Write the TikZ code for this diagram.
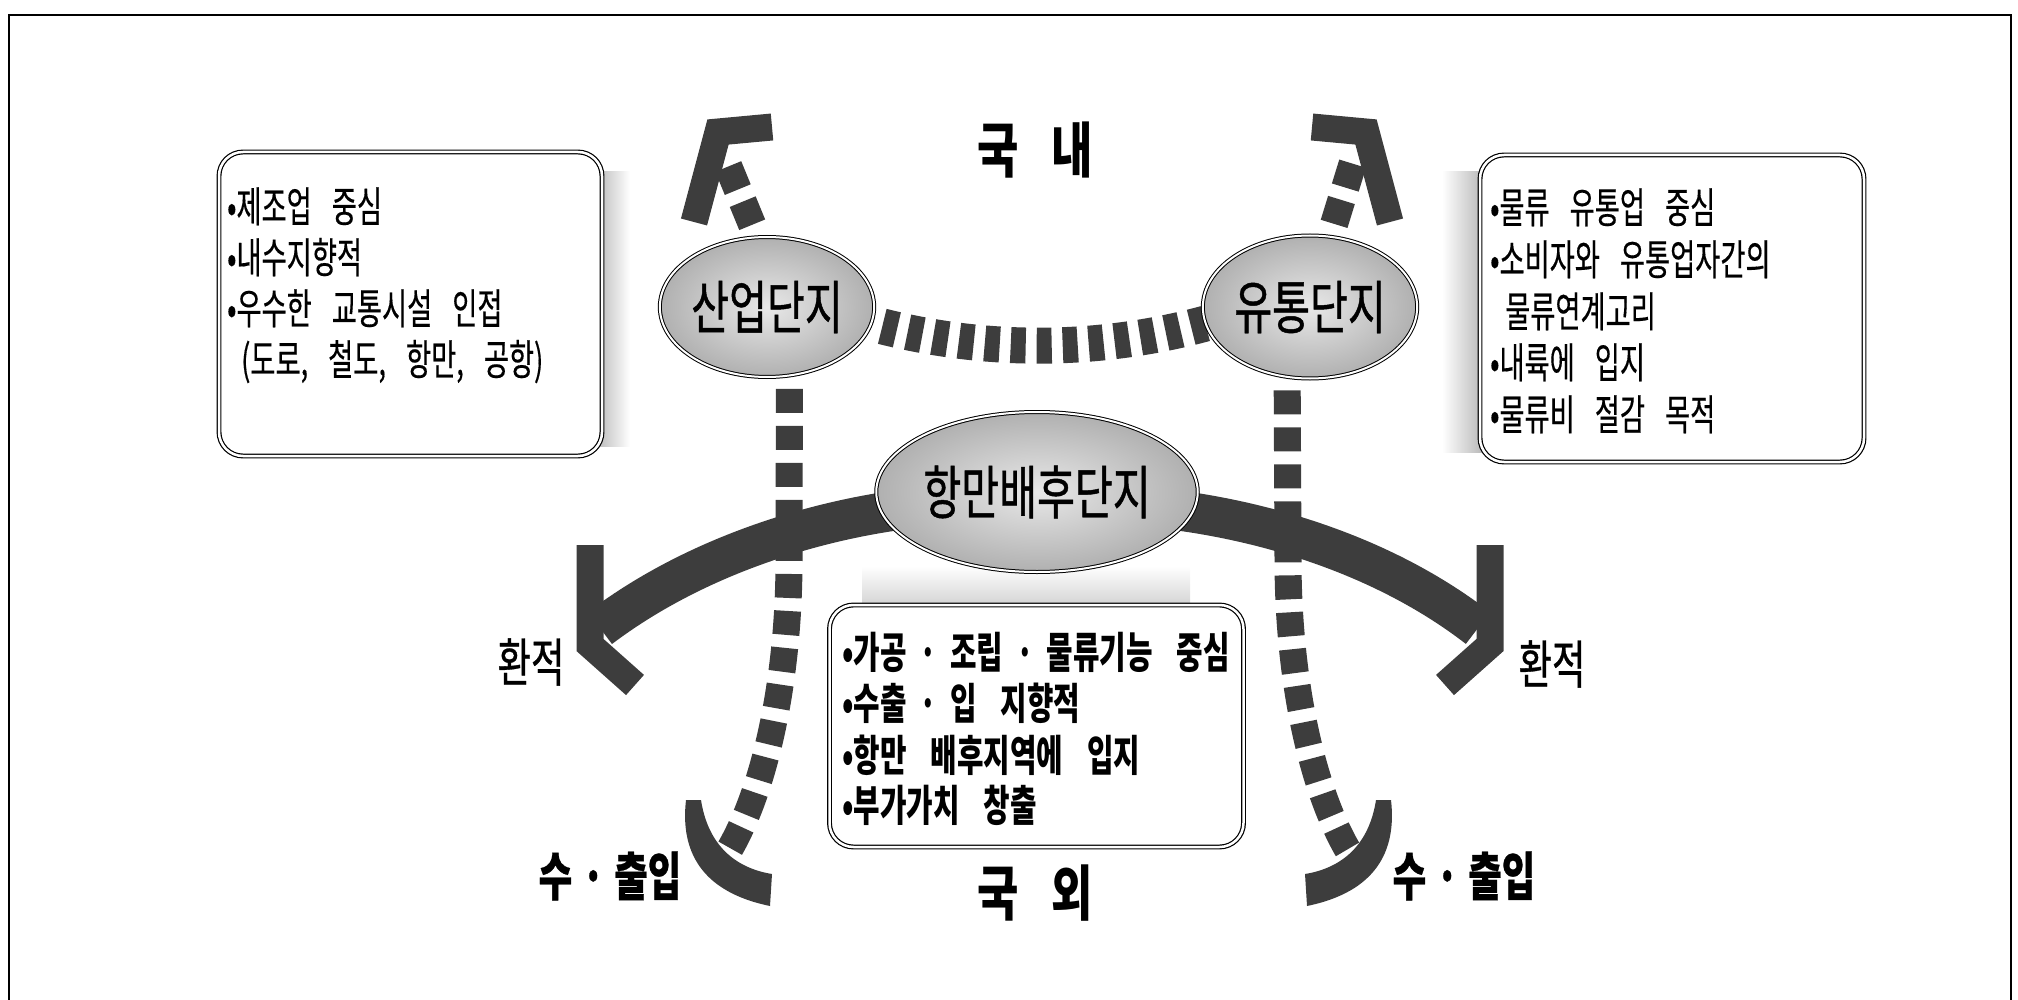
\documentclass[tikz,border=0pt]{standalone}
\usepackage{fontspec}
\usetikzlibrary{shapes.geometric}
\newfontfamily\krbox{Noto Sans CJK KR}[FakeStretch=0.65,FakeBold=0.3]
\newfontfamily\krhub{Noto Sans CJK KR}[FakeStretch=0.71,FakeBold=0.8]
\newfontfamily\krlbl{Noto Sans CJK KR}[FakeStretch=0.70,FakeBold=0.6]
\newfontfamily\krmid{Noto Sans CJK KR}[FakeStretch=0.67]
\newfontfamily\krtitle{Noto Sans CJK KR}[FakeStretch=0.75]
\definecolor{bandgray}{gray}{0.24}
\pgfdeclarelayer{bg}
\pgfsetlayers{bg,main}
\newcommand{\mdot}{\hspace{13pt}·\hspace{13pt}}
\newcommand{\ldot}{\hspace{10pt}·\hspace{10pt}}
\newcommand{\sideskip}{\spaceskip=20pt\relax}
\newcommand{\midskip}{\spaceskip=24pt\relax}
\newcommand{\titleskip}{\spaceskip=33pt\relax}
\begin{document}
\begin{tikzpicture}[x=1pt,y=-1pt,
  frameline/.style={line width=2.5pt, draw=black},
  band/.style={line width=40pt, draw=bandgray},
  chev/.style={line width=27pt, draw=bandgray, line join=miter, miter limit=10},
  hookfill/.style={fill=bandgray},
  dashV/.style={line width=27pt, draw=bandgray, dash pattern=on 24pt off 13pt, dash phase=24pt},
  dashT/.style={line width=28pt, draw=bandgray, dash pattern=on 25pt off 13pt, dash phase=25pt},
  dashH/.style={line width=36pt, draw=bandgray, dash pattern=on 15pt off 11pt, dash phase=15pt},
  hubst/.style={ellipse, draw=black, line width=1pt, double=white, double distance=2pt,
    inner color=gray!18, outer color=gray!62, inner sep=0pt,
    font=\krhub\fontsize{58pt}{60pt}\selectfont},
  boxst/.style={rectangle, rounded corners=24pt, draw=black, line width=1.2pt,
    double=white, double distance=2.5pt, fill=white, inner sep=0pt},
  sidetxt/.style={anchor=base west, inner sep=0pt, execute at begin node=\sideskip,
    font=\krbox\fontsize{42pt}{44pt}\selectfont},
  midtxt/.style={anchor=base west, inner sep=0pt, execute at begin node=\midskip,
    font=\krmid\bfseries\fontsize{43pt}{44pt}\selectfont},
  lbl/.style={inner sep=0pt, font=\krlbl\fontsize{52pt}{54pt}\selectfont},
  lblb/.style={inner sep=0pt, font=\krlbl\bfseries\fontsize{52pt}{54pt}\selectfont},
  ttl/.style={inner sep=0pt, execute at begin node=\titleskip,
    font=\krtitle\bfseries\fontsize{60pt}{62pt}\selectfont}
]
\useasboundingbox (0,0) rectangle (2018,1000);

% hubs (main layer, on top)
\node[hubst, minimum width=186pt, minimum height=140pt] (san) at (767,307) {산업단지};
\node[hubst, minimum width=190pt, minimum height=143pt] (yut) at (1310,307) {유통단지};
\node[hubst, minimum width=300pt, minimum height=160pt] (hub) at (1037,492) {항만배후단지};

% free ends of the connectors
\coordinate (tlEnd) at (726,161);
\coordinate (trEnd) at (1355,156);
\coordinate (blEnd) at (728,852);
\coordinate (brEnd) at (1349,852);
\coordinate (lhEnd) at (600,628);
\coordinate (rhEnd) at (1478,628);

\begin{pgfonlayer}{bg}
% frame
\draw[frameline] (9,1000) -- (9,15) -- (2011,15) -- (2011,1000);
% shadows of the boxes
\shade[left color=gray!65, right color=white] (590,172) rectangle (630,446);
\shade[left color=white, right color=gray!65] (1442,172) rectangle (1490,452);
\shade[top color=white, bottom color=gray!40] (862,566) rectangle (1190,612);
% boxes
\node[boxst, minimum width=383pt, minimum height=304pt] (lbox) at (410.5,304) {};
\node[boxst, minimum width=384pt, minimum height=307pt] (rbox) at (1672,308.5) {};
\node[boxst, minimum width=414pt, minimum height=242pt] (cbox) at (1036.5,726) {};
% transshipment bands
\draw[band] ([xshift=10pt]hub.187) .. controls (800,525) and (690,560) .. (lhEnd);
\draw[band] ([xshift=-10pt]hub.353) .. controls (1280,525) and (1390,560) .. (rhEnd);
\draw[chev] (590,545) -- (590,645) -- (635,685);
\draw[chev] (1490,545) -- (1490,645) -- (1445,685);
% dashed links
\draw[dashH] (san.-9) .. controls (980,353) and (1097,353) .. (yut.189);
\draw[dashT] (san.98) -- (tlEnd);
\draw[dashT] (yut.74) -- (trEnd);
\draw[dashV] (san.-72) -- (789,560) .. controls (789,680) and (765,790) .. (blEnd);
\draw[dashV] (yut.-108) -- (1288,560) .. controls (1288,680) and (1312,790) .. (brEnd);
% arrow heads
\draw[chev] (694,222) -- (718,132) -- (772,127);
\draw[chev] (1390,222) -- (1366,132) -- (1312,127);
\fill[hookfill] (686,800) .. controls (680,852) and (702,892) .. (770,906)
  -- (772,874) .. controls (735,868) and (708,845) .. (701,800) -- cycle;
\fill[hookfill] (1391,800) .. controls (1397,852) and (1375,892) .. (1307,906)
  -- (1305,874) .. controls (1342,868) and (1369,845) .. (1376,800) -- cycle;
\end{pgfonlayer}

% left box text
\node[sidetxt] (l1) at (227,222) {•제조업 중심};
\node[sidetxt] (l2) at (227,273) {•내수지향적};
\node[sidetxt] (l3) at (227,324) {•우수한 교통시설 인접};
\node[sidetxt] (l4) at (241,375) {(도로, 철도, 항만, 공항)};

% right box text
\node[sidetxt] (r1) at (1490,223) {•물류 유통업 중심};
\node[sidetxt] (r2) at (1490,275) {•소비자와 유통업자간의};
\node[sidetxt] (r3) at (1505,327) {물류연계고리};
\node[sidetxt] (r4) at (1490,378) {•내륙에 입지};
\node[sidetxt] (r5) at (1490,430) {•물류비 절감 목적};

% centre box text
\node[midtxt] (c1) at (842,668) {•가공\mdot 조립\mdot 물류기능 중심};
\node[midtxt] (c2) at (842,719) {•수출\mdot 입 지향적};
\node[midtxt] (c3) at (842,771) {•항만 배후지역에 입지};
\node[midtxt] (c4) at (842,821) {•부가가치 창출};

% labels
\node[ttl] (kn) at (1035,150) {국 내};
\node[ttl] (kw) at (1035,893) {국 외};
\node[lbl] (hwl) at (531,662) {환적};
\node[lbl] (hwr) at (1552,664) {환적};
\node[lblb] (sul) at (610,876) {수\ldot 출입};
\node[lblb] (sur) at (1464,876) {수\ldot 출입};
\end{tikzpicture}
\end{document}
